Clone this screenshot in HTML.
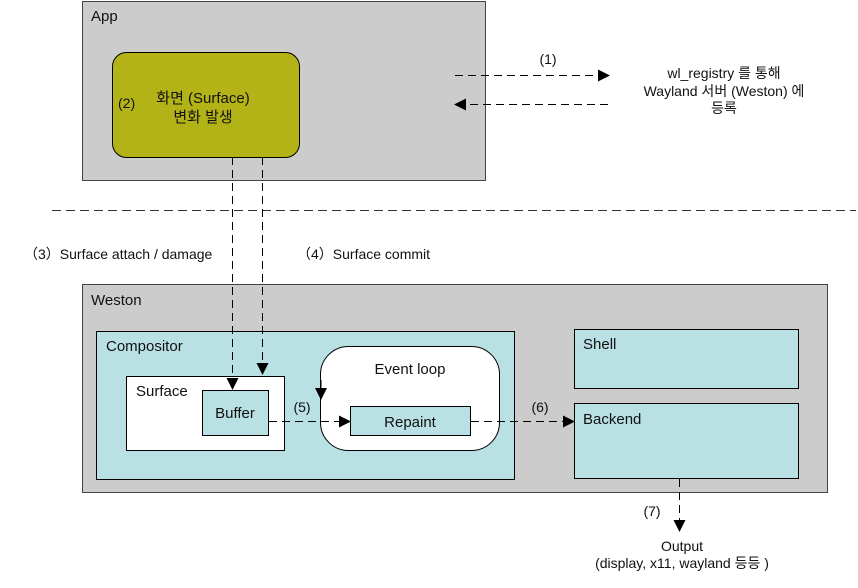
<!DOCTYPE html>
<html><head><meta charset="utf-8"><style>
body{margin:0;width:858px;height:583px;background:#fff;overflow:hidden}
svg text{font-family:"Liberation Sans","Noto Sans CJK KR",sans-serif;fill:#111}
</style></head><body>
<svg width="858" height="583" xmlns="http://www.w3.org/2000/svg">
<defs><marker id="a" markerWidth="12" markerHeight="12" refX="11" refY="6" orient="auto" markerUnits="userSpaceOnUse"><path d="M0,0 L12,6 L0,12 z" fill="#000"/></marker></defs>
<rect x="82.5" y="1.5" width="403" height="179" fill="#cccccc" stroke="#444"/>
<text x="91" y="21" font-size="15">App</text>
<rect x="112.5" y="52.5" width="187" height="105" rx="14" fill="#b3b318" stroke="#000"/>
<text x="203" y="103" font-size="15" text-anchor="middle">화면 (Surface)</text>
<text x="203" y="122" font-size="15" text-anchor="middle">변화 발생</text>
<text x="118" y="108" font-size="14">(2)</text>
<line x1="455" y1="75.5" x2="609" y2="75.5" stroke="#000" stroke-dasharray="8,5" marker-end="url(#a)"/>
<line x1="608" y1="104.5" x2="455" y2="104.5" stroke="#000" stroke-dasharray="8,5" marker-end="url(#a)"/>
<text x="548" y="64" font-size="14" text-anchor="middle">(1)</text>
<text x="724" y="78" font-size="14" text-anchor="middle">wl_registry 를 통해</text>
<text x="724" y="96" font-size="14" text-anchor="middle">Wayland  서버 (Weston) 에</text>
<text x="724" y="113" font-size="14" text-anchor="middle">등록</text>
<line x1="52" y1="210.5" x2="856" y2="210.5" stroke="#333" stroke-dasharray="9,5"/>
<text x="24" y="259" font-size="14">（3）Surface attach / damage</text>
<text x="297" y="259" font-size="14">（4）Surface commit</text>
<rect x="82.5" y="284.5" width="745" height="208" fill="#cccccc" stroke="#444"/>
<text x="91" y="305" font-size="15">Weston</text>
<rect x="96.5" y="331.5" width="418" height="148" fill="#b9e0e3" stroke="#000"/>
<text x="106" y="351" font-size="15">Compositor</text>
<rect x="126.5" y="376.5" width="158" height="74" fill="#fff" stroke="#000"/>
<text x="136" y="396" font-size="15">Surface</text>
<rect x="202.5" y="390.5" width="66" height="45" fill="#b9e0e3" stroke="#000"/>
<text x="235" y="418" font-size="15" text-anchor="middle">Buffer</text>
<rect x="320.5" y="346.5" width="179" height="104" rx="28" fill="#fff" stroke="#000"/>
<text x="410" y="374" font-size="15" text-anchor="middle">Event loop</text>
<line x1="321" y1="380" x2="321" y2="399" stroke="#000" marker-end="url(#a)"/>
<rect x="350.5" y="406.5" width="120" height="29" fill="#b9e0e3" stroke="#000"/>
<text x="410" y="427" font-size="15" text-anchor="middle">Repaint</text>
<rect x="574.5" y="329.5" width="224" height="59" fill="#b9e0e3" stroke="#000"/>
<text x="583" y="349" font-size="15">Shell</text>
<rect x="574.5" y="403.5" width="224" height="75" fill="#b9e0e3" stroke="#000"/>
<text x="583" y="424" font-size="15">Backend</text>
<line x1="232.5" y1="157" x2="232.5" y2="389" stroke="#000" stroke-dasharray="8,5" marker-end="url(#a)"/>
<line x1="262.5" y1="157" x2="262.5" y2="374" stroke="#000" stroke-dasharray="8,5" marker-end="url(#a)"/>
<line x1="269" y1="421.5" x2="350" y2="421.5" stroke="#000" stroke-dasharray="8,5" marker-end="url(#a)"/>
<text x="302" y="412" font-size="14" text-anchor="middle">(5)</text>
<line x1="471" y1="421.5" x2="574" y2="421.5" stroke="#000" stroke-dasharray="8,5" marker-end="url(#a)"/>
<text x="540" y="412" font-size="14" text-anchor="middle">(6)</text>
<line x1="679.5" y1="479" x2="679.5" y2="531" stroke="#000" stroke-dasharray="8,5" marker-end="url(#a)"/>
<text x="652" y="516" font-size="14" text-anchor="middle">(7)</text>
<text x="682" y="551" font-size="14" text-anchor="middle">Output</text>
<text x="682" y="568" font-size="14" text-anchor="middle">(display, x11, wayland  등등 )</text>
</svg>
</body></html>
